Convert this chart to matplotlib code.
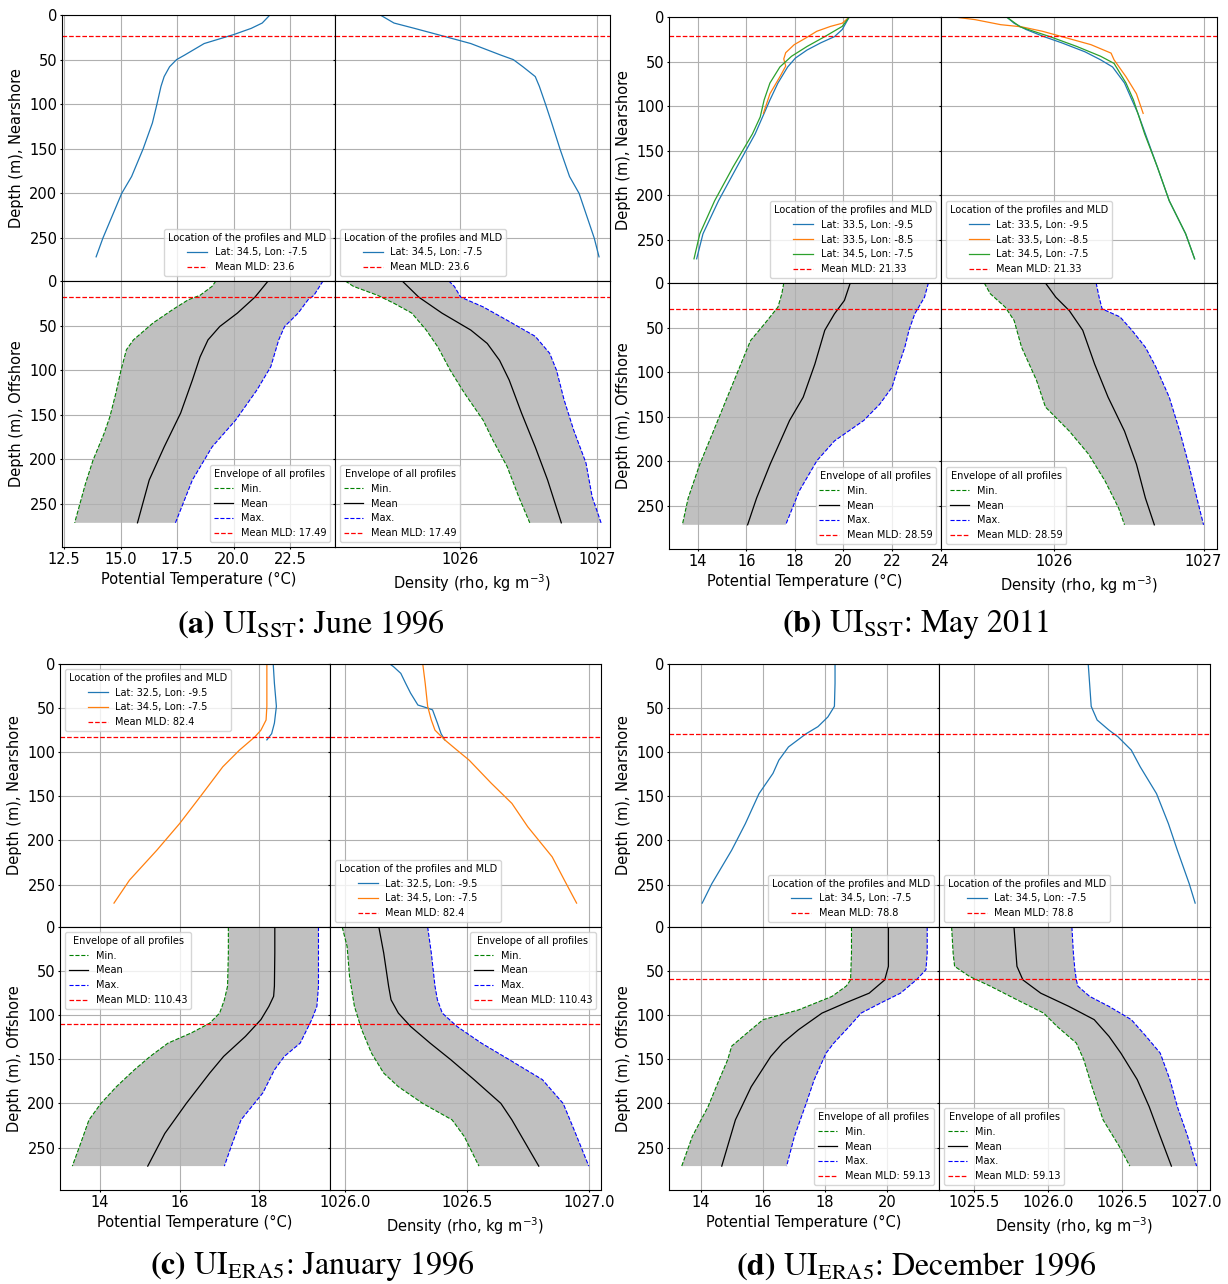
import numpy as np
import matplotlib
matplotlib.use("Agg")
import matplotlib.pyplot as plt

plt.rcParams.update({
    "font.family": "DejaVu Sans",
    "font.size": 10.5,
    "axes.grid": True,
    "xtick.major.size": 1.5,
    "ytick.major.size": 1.5,
    "xtick.major.pad": 1.8,
    "ytick.major.pad": 1.8,
})

# ---------------------------------------------------------------------------
# (a) UI_SST June 1996
# ---------------------------------------------------------------------------
A_LABELS = ["Lat: 34.5, Lon: -7.5"]
A_NEAR_Z = [0, 9, 15, 22, 32, 45, 50, 58, 69, 80, 100, 121, 150, 181, 200, 250, 271]
A_NEAR_T = [21.61, 21.27, 20.78, 20.0, 18.70, 17.83, 17.48, 17.17, 16.93, 16.79,
            16.61, 16.41, 16.0, 15.49, 15.05, 14.22, 13.92]
A_NEAR_R = [1025.42, 1025.52, 1025.67, 1025.84, 1026.08, 1026.30, 1026.39, 1026.46,
            1026.55, 1026.58, 1026.625, 1026.67, 1026.73, 1026.80, 1026.87, 1026.98, 1027.015]
A_MLD_NEAR, A_MLD_OFF = 23.6, 17.49

A_TMIN_Z = [0, 6, 16, 21, 32, 47, 66, 77, 100, 126, 152, 171, 201, 227, 271]
A_TMIN = [19.22, 19.05, 18.52, 18.0, 17.31, 16.44, 15.57, 15.26, 15.02, 14.79, 14.53,
          14.27, 13.78, 13.45, 12.97]
A_TMEAN_Z = [0, 18, 36, 51, 66, 85, 111, 148, 186, 223, 271]
A_TMEAN = [21.53, 20.95, 20.17, 19.39, 18.87, 18.52, 18.18, 17.66, 16.93, 16.27, 15.75]
A_TMAX_Z = [0, 16, 21, 36, 51, 66, 96, 122, 156, 186, 223, 271]
A_TMAX = [23.96, 23.56, 23.30, 22.86, 22.26, 22.0, 21.65, 21.04, 20.09, 19.05, 18.18, 17.43]

A_RMIN_Z = [0, 6, 16, 25, 36, 55, 74, 100, 126, 156, 178, 208, 242, 271]
A_RMIN = [1025.165, 1025.224, 1025.40, 1025.52, 1025.65, 1025.755, 1025.84, 1025.93,
          1026.035, 1026.17, 1026.24, 1026.345, 1026.43, 1026.51]
A_RMEAN_Z = [0, 18, 36, 55, 70, 89, 111, 148, 186, 223, 271]
A_RMEAN = [1025.58, 1025.70, 1025.87, 1026.08, 1026.20, 1026.29, 1026.36, 1026.45,
           1026.55, 1026.64, 1026.74]
A_RMAX_Z = [0, 6, 18, 29, 44, 62, 81, 100, 133, 167, 204, 242, 271]
A_RMAX = [1025.92, 1025.96, 1026.006, 1026.17, 1026.345, 1026.55, 1026.655, 1026.705,
          1026.76, 1026.83, 1026.92, 1026.965, 1027.03]

# ---------------------------------------------------------------------------
# (b) UI_SST May 2011
# ---------------------------------------------------------------------------
B_LABELS = ["Lat: 33.5, Lon: -9.5", "Lat: 33.5, Lon: -8.5", "Lat: 34.5, Lon: -7.5"]
B_NEAR1_TZ = [0, 14, 22, 29, 37, 46, 56, 74, 93, 108, 131, 168, 206, 243, 271]
B_NEAR1_T = [20.24, 19.95, 19.63, 19.06, 18.50, 18.02, 17.70, 17.30, 16.97, 16.73,
             16.36, 15.61, 14.85, 14.21, 13.95]
B_NEAR1_RZ = [0, 7, 14, 22, 29, 39, 48, 56, 74, 93, 108, 131, 168, 206, 243, 271]
B_NEAR1_R = [1025.68, 1025.73, 1025.81, 1025.93, 1026.05, 1026.205, 1026.31, 1026.39,
             1026.47, 1026.52, 1026.56, 1026.61, 1026.69, 1026.77, 1026.88, 1026.94]
B_NEAR2_TZ = [0, 7, 10.5, 16, 24, 31, 40, 47, 55, 67, 86, 108]
B_NEAR2_T = [20.24, 19.95, 19.47, 18.90, 18.42, 17.97, 17.62, 17.54, 17.62, 17.38,
             16.97, 16.70]
B_NEAR2_RZ = [0, 3, 8.6, 11, 16, 22, 31, 40.5, 48, 67, 86, 108]
B_NEAR2_R = [1025.33, 1025.47, 1025.64, 1025.78, 1025.92, 1026.05, 1026.245, 1026.38,
             1026.40, 1026.48, 1026.55, 1026.595]
B_NEAR3_TZ = [0, 10.5, 22, 33, 44, 56, 74, 93, 112, 131, 168, 206, 243, 271]
B_NEAR3_T = [20.24, 19.95, 19.23, 18.50, 17.86, 17.38, 16.97, 16.73, 16.57, 16.25,
             15.45, 14.69, 14.08, 13.84]
B_NEAR3_RZ = [0, 11, 22, 33, 44, 52, 74, 93, 131, 168, 206, 243, 271]
B_NEAR3_R = [1025.68, 1025.77, 1025.97, 1026.15, 1026.31, 1026.40, 1026.48, 1026.53,
             1026.605, 1026.69, 1026.77, 1026.88, 1026.94]
B_MLD_NEAR, B_MLD_OFF = 21.33, 28.59

B_TMIN_Z = [0, 12, 27, 46, 64.5, 91, 128, 166, 203, 241, 271]
B_TMIN = [17.54, 17.46, 17.30, 16.74, 16.17, 15.77, 15.21, 14.64, 14.08, 13.60, 13.36]
B_TMEAN_Z = [0, 19.5, 34.5, 53, 91, 128, 154, 203, 241, 271]
B_TMEAN = [20.28, 20.04, 19.63, 19.23, 18.82, 18.34, 17.78, 16.98, 16.42, 16.05]
B_TMAX_Z = [0, 16, 34.5, 53, 72, 91, 117, 136, 154, 177, 199, 233, 271]
B_TMAX = [23.50, 23.34, 22.94, 22.70, 22.53, 22.29, 22.0, 21.49, 20.84, 19.63, 18.91,
          18.18, 17.62]

B_RMIN_Z = [0, 12, 27, 42, 72, 109, 139, 166, 192, 222, 252, 271]
B_RMIN = [1025.53, 1025.57, 1025.67, 1025.73, 1025.78, 1025.88, 1025.94, 1026.10,
          1026.23, 1026.34, 1026.43, 1026.47]
B_RMEAN_Z = [0, 16, 31, 53, 91, 128, 166, 203, 241, 271]
B_RMEAN = [1025.94, 1026.01, 1026.10, 1026.19, 1026.27, 1026.36, 1026.47, 1026.55,
           1026.61, 1026.67]
B_RMAX_Z = [0, 16, 29, 38, 53, 72, 94, 128, 166, 203, 241, 271]
B_RMAX = [1026.28, 1026.30, 1026.32, 1026.44, 1026.52, 1026.61, 1026.68, 1026.77,
          1026.84, 1026.90, 1026.955, 1027.0]

# ---------------------------------------------------------------------------
# (c) UI_ERA5 January 1996
# ---------------------------------------------------------------------------
C_LABELS = ["Lat: 32.5, Lon: -9.5", "Lat: 34.5, Lon: -7.5"]
C_NEAR1_TZ = [0, 22, 48, 67, 79, 86]
C_NEAR1_T = [18.36, 18.39, 18.44, 18.39, 18.32, 18.20]
C_NEAR1_RZ = [0, 3, 10.6, 22, 33, 46.5, 50, 52, 67, 79, 86]
C_NEAR1_R = [1026.185, 1026.20, 1026.23, 1026.25, 1026.27, 1026.30, 1026.34, 1026.36,
             1026.38, 1026.395, 1026.41]
C_NEAR2_TZ = [0, 22, 48, 63.5, 75, 82.5, 97.6, 116.5, 150.5, 181, 211, 245, 271]
C_NEAR2_T = [18.20, 18.20, 18.20, 18.18, 18.05, 17.90, 17.51, 17.09, 16.52, 16.0,
             15.43, 14.74, 14.35]
C_NEAR2_RZ = [0, 22, 48, 63.5, 75, 86, 97.6, 109, 135, 158, 184.5, 218.6, 245, 271]
C_NEAR2_R = [1026.32, 1026.33, 1026.34, 1026.355, 1026.37, 1026.41, 1026.46, 1026.51,
             1026.60, 1026.685, 1026.75, 1026.85, 1026.90, 1026.95]
C_MLD_NEAR, C_MLD_OFF = 82.4, 110.43

C_TMIN_Z = [0, 29.5, 67, 82.5, 97.6, 109, 120, 131.6, 146.7, 162, 181, 200, 218.6, 249, 271]
C_TMIN = [17.23, 17.23, 17.21, 17.13, 17.01, 16.76, 16.30, 15.71, 15.26, 14.86, 14.41,
          14.02, 13.72, 13.48, 13.30]
C_TMEAN_Z = [0, 29.5, 67, 78.6, 90, 105, 124, 146.7, 165.6, 200, 234, 271]
C_TMEAN = [18.40, 18.40, 18.39, 18.37, 18.25, 18.05, 17.66, 17.11, 16.76, 16.17,
           15.63, 15.20]
C_TMAX_Z = [0, 29.5, 67, 90, 105, 131.6, 146.7, 162, 188, 218.6, 249, 271]
C_TMAX = [19.50, 19.50, 19.50, 19.46, 19.33, 19.04, 18.64, 18.39, 18.10, 17.55, 17.30, 17.13]

C_RMIN_Z = [0, 22, 56, 90, 116.5, 143, 165.6, 181, 200, 218.6, 237.5, 271]
C_RMIN = [1025.99, 1026.01, 1026.02, 1026.04, 1026.07, 1026.11, 1026.16, 1026.22,
          1026.32, 1026.44, 1026.49, 1026.55]
C_RMEAN_Z = [0, 29.5, 67, 82.5, 97.6, 112.7, 131.6, 150.5, 173, 200, 218.6, 271]
C_RMEAN = [1026.14, 1026.16, 1026.18, 1026.19, 1026.22, 1026.27, 1026.35, 1026.435,
           1026.53, 1026.64, 1026.685, 1026.795]
C_RMAX_Z = [0, 29.5, 67, 82.5, 97.6, 112.7, 131.6, 150.5, 173, 200, 230, 271]
C_RMAX = [1026.34, 1026.355, 1026.37, 1026.38, 1026.40, 1026.46, 1026.56, 1026.675,
          1026.81, 1026.895, 1026.94, 1027.0]

# ---------------------------------------------------------------------------
# (d) UI_ERA5 December 1996
# ---------------------------------------------------------------------------
D_LABELS = ["Lat: 34.5, Lon: -7.5"]
D_NEAR_TZ = [0, 22, 48, 60, 71, 79, 94, 109, 124, 147, 181, 211, 249, 271]
D_NEAR_T = [18.32, 18.32, 18.30, 18.09, 17.77, 17.39, 16.82, 16.51, 16.32, 15.87,
            15.43, 14.99, 14.35, 14.04]
D_NEAR_RZ = [0, 48, 63.5, 75, 82.5, 97.6, 116.5, 147, 181, 211, 249, 271]
D_NEAR_R = [1026.27, 1026.29, 1026.33, 1026.41, 1026.47, 1026.56, 1026.62, 1026.73,
            1026.81, 1026.87, 1026.95, 1026.99]
D_MLD_NEAR, D_MLD_OFF = 78.8, 59.13

D_TMIN_Z = [0, 29.5, 60, 67, 78.7, 94, 105, 120, 135, 150.5, 177, 203.5, 237.5, 271]
D_TMIN = [18.85, 18.85, 18.82, 18.68, 18.22, 17.14, 16.0, 15.49, 14.99, 14.86, 14.54,
          14.23, 13.72, 13.38]
D_TMEAN_Z = [0, 44.6, 60, 75, 86, 97.6, 116.5, 131.6, 146.7, 181, 218.6, 271]
D_TMEAN = [20.04, 20.04, 19.92, 19.42, 18.66, 17.90, 17.14, 16.63, 16.25, 15.62,
           15.11, 14.67]
D_TMAX_Z = [0, 29.5, 48.4, 60, 75, 86, 97.6, 112.7, 131.6, 143, 173, 200, 237.5, 271]
D_TMAX = [21.29, 21.29, 21.25, 20.94, 20.43, 19.80, 19.16, 18.78, 18.28, 18.03, 17.65,
          17.39, 17.01, 16.76]

D_RMIN_Z = [0, 29.5, 44.6, 56, 67, 82.5, 97.6, 112.7, 131.6, 150.5, 181, 218.6, 249, 271]
D_RMIN = [1025.35, 1025.36, 1025.37, 1025.47, 1025.61, 1025.79, 1025.97, 1026.06,
          1026.19, 1026.24, 1026.295, 1026.37, 1026.48, 1026.55]
D_RMEAN_Z = [0, 44.6, 60, 75, 90, 105, 124, 143, 173, 203.5, 237.5, 271]
D_RMEAN = [1025.77, 1025.79, 1025.83, 1025.95, 1026.14, 1026.31, 1026.41, 1026.49,
           1026.60, 1026.68, 1026.755, 1026.83]
D_RMAX_Z = [0, 29.5, 48.4, 60, 67, 78.7, 90, 105, 124, 143, 173, 203.5, 237.5, 271]
D_RMAX = [1026.16, 1026.17, 1026.18, 1026.19, 1026.20, 1026.28, 1026.41, 1026.56,
          1026.66, 1026.755, 1026.82, 1026.87, 1026.94, 1027.0]

DEPTH_TICKS = [0, 50, 100, 150, 200, 250]
MAX_DEPTH = 271

W, H = 1228, 1284
fig = plt.figure(figsize=(W / 100, H / 100), dpi=100)


def px_axes(left, right, top, bottom):
    return fig.add_axes([left / W, 1 - bottom / H, (right - left) / W, (bottom - top) / H])


def draw_nearshore(ax, profiles, labels, mld, loc):
    for i, ((z, v), lab) in enumerate(zip(profiles, labels)):
        ax.plot(v, z, color=f"C{i}", lw=0.9, label=lab)
    ax.axhline(mld, color="red", ls="--", lw=0.9, label=f"Mean MLD: {mld}")
    ax.legend(loc=loc, title="Location of the profiles and MLD",
              fontsize=7, title_fontsize=7)


def draw_offshore(ax, zmin, vmin, zmean, vmean, zmax, vmax, mld, loc):
    ax.fill(np.r_[vmin, vmax[::-1]], np.r_[zmin, zmax[::-1]], color="silver", lw=0)
    ax.plot(vmin, zmin, color="green", ls="--", lw=0.8, label="Min.")
    ax.plot(vmean, zmean, color="black", lw=0.9, label="Mean")
    ax.plot(vmax, zmax, color="blue", ls="--", lw=0.8, label="Max.")
    ax.axhline(mld, color="red", ls="--", lw=0.9, label=f"Mean MLD: {mld}")
    ax.legend(loc=loc, title="Envelope of all profiles", fontsize=7, title_fontsize=7)


def panel(box, near_t, near_r, labels, mld_near, off_t, off_r, mld_off,
          t_ticks, t_lim, r_ticks, r_lim, locs, caption, cap_x, cap_y):
    left, mid, right, top, midy, bottom = box
    ax_nt = px_axes(left, mid, top, midy)
    ax_nr = px_axes(mid, right, top, midy)
    ax_ot = px_axes(left, mid, midy, bottom)
    ax_or = px_axes(mid, right, midy, bottom)

    draw_nearshore(ax_nt, near_t, labels, mld_near, locs[0])
    draw_nearshore(ax_nr, near_r, labels, mld_near, locs[1])
    draw_offshore(ax_ot, *off_t, mld_off, locs[2])
    draw_offshore(ax_or, *off_r, mld_off, locs[3])

    for ax in (ax_nt, ax_nr, ax_ot, ax_or):
        ax.set_ylim(MAX_DEPTH * 1.1, 0)
        ax.set_yticks(DEPTH_TICKS)
    for ax in (ax_nt, ax_ot):
        ax.set_xticks(t_ticks)
        ax.set_xlim(*t_lim)
    for ax in (ax_nr, ax_or):
        ax.set_xticks(r_ticks)
        ax.set_xlim(*r_lim)
        ax.tick_params(labelleft=False)
    for ax in (ax_nt, ax_nr):
        ax.tick_params(labelbottom=False)

    ax_nt.set_ylabel("Depth (m), Nearshore")
    ax_ot.set_ylabel("Depth (m), Offshore")
    ax_ot.set_xlabel("Potential Temperature (°C)")
    ax_or.set_xlabel("Density (rho, kg m$^{-3}$)")

    fig.text(cap_x / W, 1 - cap_y / H, caption, ha="center", va="center",
             fontsize=23, family="STIXGeneral", math_fontfamily="stix")


panel((62, 335, 610, 15, 281, 547),
      [(A_NEAR_Z, A_NEAR_T)], [(A_NEAR_Z, A_NEAR_R)], A_LABELS, A_MLD_NEAR,
      (A_TMIN_Z, A_TMIN, A_TMEAN_Z, A_TMEAN, A_TMAX_Z, A_TMAX),
      (A_RMIN_Z, A_RMIN, A_RMEAN_Z, A_RMEAN, A_RMAX_Z, A_RMAX), A_MLD_OFF,
      [12.5, 15.0, 17.5, 20.0, 22.5], (12.41, 24.49), [1026, 1027], (1025.09, 1027.095),
      ["lower right", "lower left", "lower right", "lower left"],
      r"$\mathbf{(a)}$ UI$_{\mathrm{SST}}$: June 1996", 311, 624)

panel((669, 941, 1217, 17, 283, 549),
      [(B_NEAR1_TZ, B_NEAR1_T), (B_NEAR2_TZ, B_NEAR2_T), (B_NEAR3_TZ, B_NEAR3_T)],
      [(B_NEAR1_RZ, B_NEAR1_R), (B_NEAR2_RZ, B_NEAR2_R), (B_NEAR3_RZ, B_NEAR3_R)],
      B_LABELS, B_MLD_NEAR,
      (B_TMIN_Z, B_TMIN, B_TMEAN_Z, B_TMEAN, B_TMAX_Z, B_TMAX),
      (B_RMIN_Z, B_RMIN, B_RMEAN_Z, B_RMEAN, B_RMAX_Z, B_RMAX), B_MLD_OFF,
      [14, 16, 18, 20, 22, 24], (12.81, 24.02), [1026, 1027], (1025.24, 1027.09),
      ["lower right", "lower left", "lower right", "lower left"],
      r"$\mathbf{(b)}$ UI$_{\mathrm{SST}}$: May 2011", 916, 624)

panel((60, 330, 601, 664, 927, 1190),
      [(C_NEAR1_TZ, C_NEAR1_T), (C_NEAR2_TZ, C_NEAR2_T)],
      [(C_NEAR1_RZ, C_NEAR1_R), (C_NEAR2_RZ, C_NEAR2_R)],
      C_LABELS, C_MLD_NEAR,
      (C_TMIN_Z, C_TMIN, C_TMEAN_Z, C_TMEAN, C_TMAX_Z, C_TMAX),
      (C_RMIN_Z, C_RMIN, C_RMEAN_Z, C_RMEAN, C_RMAX_Z, C_RMAX), C_MLD_OFF,
      [14, 16, 18], (12.99, 19.79), [1026.0, 1026.5, 1027.0], (1025.94, 1027.05),
      ["upper left", "lower left", "upper left", "upper right"],
      r"$\mathbf{(c)}$ UI$_{\mathrm{ERA5}}$: January 1996", 312, 1266)

panel((669, 939, 1210, 664, 927, 1190),
      [(D_NEAR_TZ, D_NEAR_T)], [(D_NEAR_RZ, D_NEAR_R)], D_LABELS, D_MLD_NEAR,
      (D_TMIN_Z, D_TMIN, D_TMEAN_Z, D_TMEAN, D_TMAX_Z, D_TMAX),
      (D_RMIN_Z, D_RMIN, D_RMEAN_Z, D_RMEAN, D_RMAX_Z, D_RMAX), D_MLD_OFF,
      [14, 16, 18, 20], (12.97, 21.67), [1025.5, 1026.0, 1026.5, 1027.0], (1025.265, 1027.09),
      ["lower right", "lower left", "lower right", "lower left"],
      r"$\mathbf{(d)}$ UI$_{\mathrm{ERA5}}$: December 1996", 916, 1266)

fig.savefig("out.png", dpi=100)
